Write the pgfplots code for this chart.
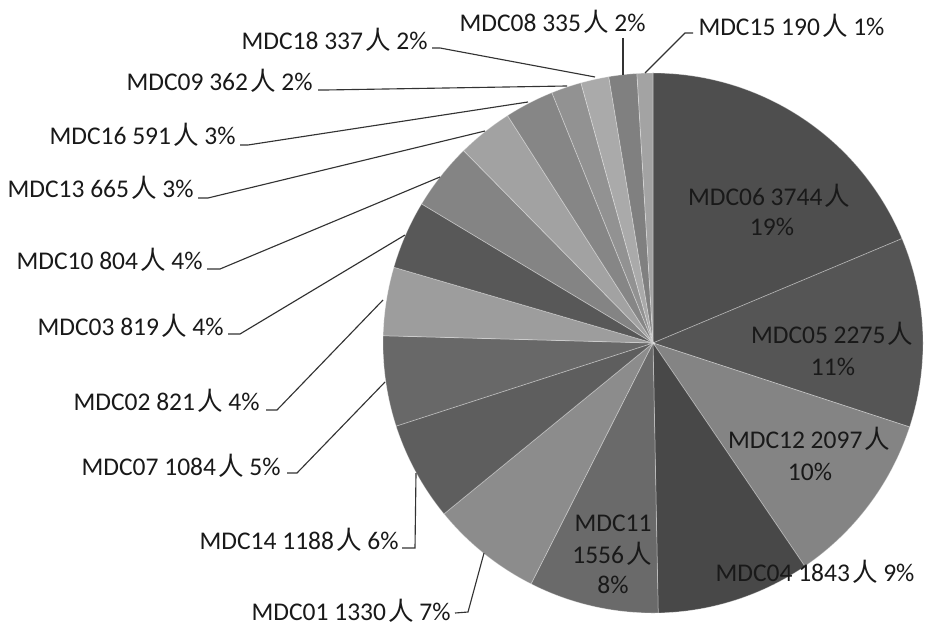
\documentclass[border=0pt]{standalone}
\usepackage{pgfplots}
\pgfplotsset{compat=1.18}
\usepackage{pgfplotstable}
\usepackage{fontspec}
\setmainfont{Carlito}
\newfontfamily\cjk{Noto Sans CJK SC}
\newcommand\ren{\hspace{0.08em}{\cjk 人}}

% slices clockwise from 12 o'clock: name, count, gray level (0-255)
\pgfplotstableread{
name count gray
MDC06 3744 78
MDC05 2275 85
MDC12 2097 132
MDC04 1843 72
MDC11 1556 106
MDC01 1330 140
MDC14 1188 94
MDC07 1084 104
MDC02 821 157
MDC03 819 88
MDC10 804 132
MDC13 665 162
MDC16 591 134
MDC09 362 146
MDC18 337 170
MDC08 335 128
MDC15 190 163
}\piedata

\def\cx{653}\def\cy{281}\def\R{270}
\def\total{0}
\pgfplotsforeachungrouped \i in {0,...,16}{%
  \pgfplotstablegetelem{\i}{count}\of\piedata
  \xdef\total{\fpeval{\total+\pgfplotsretval}}%
}

\tikzset{lbl/.style={inner sep=0pt, text=black!90, font=\fontsize{10.2}{12}\selectfont},
  leader/.style={draw=black!80, solid, line width=0.45pt, mark=none}}

\begin{document}
\begin{tikzpicture}
\begin{axis}[
  scale only axis, width=370pt, height=249.6pt,
  xmin=0, xmax=925, ymin=0, ymax=624,
  hide axis, clip=false,
]
\def\cum{0}
\pgfplotsforeachungrouped \i in {0,...,16}{%
  \pgfplotstablegetelem{\i}{count}\of\piedata \let\cnt\pgfplotsretval
  \pgfplotstablegetelem{\i}{gray}\of\piedata \let\gv\pgfplotsretval
  \edef\angA{\fpeval{90-\cum/\total*360}}%
  \edef\cum{\fpeval{\cum+\cnt}}%
  \edef\angB{\fpeval{90-\cum/\total*360}}%
  \edef\temp{\noexpand\addplot[fill={rgb,255:red,\gv;green,\gv;blue,\gv}, draw=white, draw opacity=0.35, line width=0.3pt, domain=\angB:\angA, samples=80, mark=none] ({\cx+\R*cos(x)},{\cy+\R*sin(x)}) -- (axis cs:\cx,\cy) -- cycle;}%
  \temp
}

% leader lines
\addplot[leader] coordinates {(432,576) (440,576) (595,547)};
\addplot[leader] coordinates {(318,534) (326,534) (567,538)};
\addplot[leader] coordinates {(240,479) (248,479) (528,522)};
\addplot[leader] coordinates {(198,426) (208,426) (485,493)};
\addplot[leader] coordinates {(207,355) (220,355) (440,447)};
\addplot[leader] coordinates {(228,290) (240,290) (405,389)};
\addplot[leader] coordinates {(266,214) (277,214) (383,324)};
\addplot[leader] coordinates {(287,151) (297,151) (385,242)};
\addplot[leader] coordinates {(402,76) (415,76) (416,151)};
\addplot[leader] coordinates {(455,11) (468,12) (484,71)};
\addplot[leader] coordinates {(623,586) (623,549)};
\addplot[leader] coordinates {(693,591) (685,591) (645,551)};

% outside labels
\node[lbl, anchor=base east] at (axis cs:428,574) {MDC18 337\ren{} 2\%};
\node[lbl, anchor=base east] at (axis cs:313,533) {MDC09 362\ren{} 2\%};
\node[lbl, anchor=base east] at (axis cs:236,479) {MDC16 591\ren{} 3\%};
\node[lbl, anchor=base east] at (axis cs:194,426) {MDC13 665\ren{} 3\%};
\node[lbl, anchor=base east] at (axis cs:203,354) {MDC10 804\ren{} 4\%};
\node[lbl, anchor=base east] at (axis cs:224,289) {MDC03 819\ren{} 4\%};
\node[lbl, anchor=base east] at (axis cs:260,214) {MDC02 821\ren{} 4\%};
\node[lbl, anchor=base east] at (axis cs:281,149) {MDC07 1084\ren{} 5\%};
\node[lbl, anchor=base east] at (axis cs:399,75) {MDC14 1188\ren{} 6\%};
\node[lbl, anchor=base east] at (axis cs:451,4) {MDC01 1330\ren{} 7\%};
\node[lbl, anchor=base east] at (axis cs:646,592) {MDC08 335\ren{} 2\%};
\node[lbl, anchor=base west] at (axis cs:698,588) {MDC15 190\ren{} 1\%};

% inside labels
\node[lbl, anchor=base] at (axis cs:769,418) {MDC06 3744\ren};
\node[lbl, anchor=base] at (axis cs:772,388) {19\%};
\node[lbl, anchor=base] at (axis cs:832,281) {MDC05 2275\ren};
\node[lbl, anchor=base] at (axis cs:833,249) {11\%};
\node[lbl, anchor=base] at (axis cs:809,176) {MDC12 2097\ren};
\node[lbl, anchor=base] at (axis cs:810,144) {10\%};
\node[lbl, anchor=base] at (axis cs:815,43) {MDC04 1843\ren{} 9\%};
\node[lbl, anchor=base] at (axis cs:613,93) {MDC11};
\node[lbl, anchor=base] at (axis cs:612,61) {1556\ren};
\node[lbl, anchor=base] at (axis cs:613,31) {8\%};

\coordinate (SW) at (axis cs:0,0);
\coordinate (NE) at (axis cs:925,624);
\end{axis}
\pgfresetboundingbox
\path[use as bounding box] (SW) rectangle (NE);
\end{tikzpicture}
\end{document}
